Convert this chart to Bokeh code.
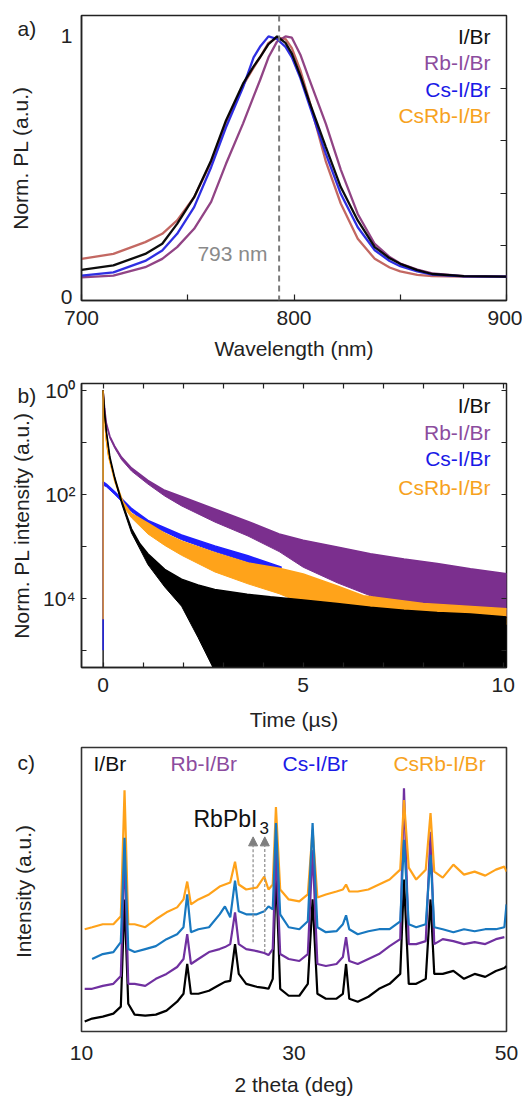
import numpy as np
from bokeh.plotting import figure
from bokeh.layouts import column
from bokeh.models import FixedTicker, Span, Label, Arrow, NormalHead, LinearAxis, LogAxis
from bokeh.core.properties import value
from bokeh.embed import file_html
from bokeh.resources import INLINE

FONT = "Liberation Sans"
FS = "21px"
INK = "#222222"

# ---------------- Panel a: normalized PL spectra ----------------
wavelength = [700, 715, 730, 738, 745, 753, 761, 768, 776, 781, 784, 788, 792, 796, 799,
              803, 807, 815, 822, 830, 838, 845, 850, 858, 865, 880, 900]
pl_IBr = [0.106, 0.123, 0.167, 0.206, 0.282, 0.384, 0.525, 0.678, 0.819, 0.885, 0.920, 0.970,
          1.0, 0.975, 0.934, 0.850, 0.755, 0.576, 0.423, 0.295, 0.193, 0.150, 0.129, 0.105,
          0.090, 0.082, 0.080]
pl_CsIBr = [0.084, 0.096, 0.140, 0.180, 0.244, 0.346, 0.499, 0.652, 0.805, 0.920, 0.960, 1.0,
            0.990, 0.960, 0.920, 0.840, 0.742, 0.550, 0.397, 0.269, 0.181, 0.140, 0.120, 0.100,
            0.088, 0.081, 0.080]
pl_RbIBr = [0.077, 0.084, 0.116, 0.148, 0.193, 0.263, 0.366, 0.512, 0.666, 0.770, 0.832, 0.920,
            0.980, 1.0, 0.995, 0.930, 0.840, 0.665, 0.490, 0.320, 0.205, 0.155, 0.130, 0.107,
            0.092, 0.082, 0.080]
pl_CsRbIBr = [0.148, 0.167, 0.212, 0.244, 0.295, 0.384, 0.519, 0.672, 0.812, 0.880, 0.920, 0.975,
              0.995, 0.990, 0.955, 0.870, 0.760, 0.520, 0.360, 0.225, 0.148, 0.115, 0.100, 0.087,
              0.082, 0.080, 0.080]
pl_peak_nm = 793

# ---------------- Panel b: TRPL decays (log10 envelopes of the noisy traces) ----------------
t_IBr = [0.0, 0.04, 0.08, 0.17, 0.29, 0.46, 0.71, 0.92, 1.12, 1.54, 1.96, 2.37, 2.79, 3.6,
         4.18, 5.0, 5.85, 6.68, 7.52, 8.35, 9.18, 10.14]
hi_IBr = [0.0, -0.45, -0.77, -1.28, -1.67, -2.12, -2.66, -2.95, -3.14, -3.44, -3.63, -3.74,
          -3.83, -3.92, -3.97, -4.03, -4.10, -4.17, -4.23, -4.27, -4.30, -4.36]
lo_IBr = [0.0, -0.48, -0.80, -1.32, -1.71, -2.17, -2.74, -3.05, -3.35, -3.78, -4.15, -4.75,
          -5.40, -5.40, -5.40, -5.40, -5.40, -5.40, -5.40, -5.40, -5.40, -5.40]

t_RbIBr = [0.0, 0.04, 0.08, 0.17, 0.29, 0.46, 0.71, 1.12, 1.54, 1.96, 2.79, 3.62, 4.4, 5.0,
           5.85, 6.68, 7.52, 8.35, 9.18, 10.14]
hi_RbIBr = [0.0, -0.35, -0.62, -0.88, -1.07, -1.28, -1.49, -1.73, -1.92, -2.04, -2.28, -2.52,
            -2.76, -2.88, -3.01, -3.14, -3.24, -3.33, -3.43, -3.53]
lo_RbIBr = [0.0, -0.38, -0.66, -0.92, -1.11, -1.33, -1.55, -1.80, -2.03, -2.22, -2.53, -2.80,
            -3.10, -3.40, -3.70, -3.95, -4.10, -4.20, -4.28, -4.35]

t_CsIBr = [0.0, 0.08, 0.29, 0.71, 1.12, 1.96, 2.79, 3.62, 4.46]
hi_CsIBr = [-1.76, -1.80, -1.95, -2.27, -2.50, -2.78, -2.99, -3.18, -3.40]
lo_CsIBr = [-1.82, -1.85, -2.00, -2.33, -2.57, -2.87, -3.10, -3.30, -3.52]

t_CsRbIBr = [0.0, 0.04, 0.08, 0.125, 0.29, 0.5, 0.71, 1.12, 1.54, 1.96, 2.79, 3.62, 4.4, 5.0,
             5.85, 6.5, 8.0, 10.14]
hi_CsRbIBr = [0.0, -0.55, -0.94, -1.20, -1.71, -2.15, -2.37, -2.55, -2.75, -2.90, -3.12, -3.32,
              -3.42, -3.53, -3.76, -3.95, -4.10, -4.20]
lo_CsRbIBr = [0.0, -0.58, -0.98, -1.25, -1.76, -2.22, -2.45, -2.76, -2.98, -3.17, -3.49, -3.72,
              -3.91, -4.10, -4.20, -4.30, -4.40, -4.50]

rise_floor = {"I/Br": -5.40, "Cs-I/Br": -5.00, "CsRb-I/Br": -4.40}

# ---------------- Panel c: XRD patterns (offset, a.u.) ----------------
two_theta = [10.3, 11, 12, 13, 13.7, 14.05, 14.4, 15, 16, 17, 18, 19, 19.6, 19.95, 20.3, 21, 22,
             23, 23.5, 24, 24.45, 24.8, 25.5, 26.5, 27.2, 27.6, 28.0, 28.3, 28.7, 29.5, 30.5,
             31.3, 31.75, 32.2, 33, 34, 34.6, 34.9, 35.2, 36, 37, 38, 39, 40.0, 40.35, 40.8,
             41.5, 42.4, 42.85, 43.2, 44, 45, 46, 47, 48, 49, 49.8, 50.0]
xrd_IBr = [10, 13, 15, 18, 25, 133, 28, 17, 16, 17, 21, 30, 38, 68, 38, 38, 41, 47, 50, 51, 88,
           58, 48, 45, 44, 43, 53, 163, 43, 36, 36, 48, 133, 38, 33, 33, 38, 68, 33, 30, 35, 43,
           48, 58, 153, 48, 48, 53, 133, 58, 58, 61, 53, 58, 55, 61, 64, 66]
xrd_RbIBr = [43, 43, 46, 48, 56, 183, 48, 48, 46, 53, 58, 65, 73, 98, 68, 73, 80, 83, 85, 88, 120,
             88, 83, 81, 79, 77, 83, 183, 78, 73, 71, 78, 183, 68, 66, 68, 75, 95, 71, 68, 73, 78,
             86, 93, 245, 88, 88, 91, 201, 88, 93, 91, 88, 90, 88, 93, 95, np.nan]
xrd_CsIBr = [np.nan, 73, 78, 80, 90, 195, 83, 80, 83, 86, 93, 98, 105, 138, 100, 103, 105, 118,
             126, 115, 152, 121, 118, 118, 121, 126, 123, 210, 118, 105, 103, 111, 210, 105, 100,
             101, 108, 117, 103, 98, 101, 103, 103, 111, 193, 108, 105, 108, 178, 105, 103, 100,
             103, 101, 103, 103, 105, 128]
xrd_CsRbIBr = [103, 105, 108, 108, 116, 243, 108, 108, 105, 113, 120, 125, 133, 151, 128, 133, 138,
               146, 148, 150, 171, 148, 143, 145, 156, 143, 148, 226, 143, 133, 131, 138, 203, 135,
               138, 141, 143, 148, 141, 141, 143, 148, 153, 163, 233, 165, 153, 163, 220, 161, 155,
               168, 158, 161, 157, 163, 166, 161]
rbpbi3_peaks = [26.15, 27.25]
rbpbi3_arrow_base = [90, 80]
rbpbi3_arrow_tip = 196

names = ["I/Br", "Rb-I/Br", "Cs-I/Br", "CsRb-I/Br"]
text_colors = {"I/Br": "#111111", "Rb-I/Br": "#8c4c9e", "Cs-I/Br": "#1a1ae6", "CsRb-I/Br": "#f7a21e"}


def style_axis(ax, tick_in=6, label_standoff=6, title_standoff=8):
    ax.axis_line_color = INK
    ax.axis_line_width = 1.5
    ax.major_tick_line_color = INK
    ax.major_tick_line_width = 1.2
    ax.major_tick_in = tick_in
    ax.major_tick_out = 0
    ax.minor_tick_line_color = INK
    ax.minor_tick_line_width = 1.2
    ax.minor_tick_in = tick_in
    ax.minor_tick_out = 0
    ax.major_label_text_font = FONT
    ax.major_label_text_font_size = FS
    ax.major_label_text_color = INK
    ax.major_label_standoff = label_standoff
    ax.axis_label_text_font = FONT
    ax.axis_label_text_font_size = FS
    ax.axis_label_text_font_style = "normal"
    ax.axis_label_text_color = INK
    ax.axis_label_standoff = title_standoff


def tick_only(ax, tick_in=5):
    # mirrored axis: tick marks only, labels not painted
    ax.axis_line_color = None
    ax.major_tick_line_color = INK
    ax.major_tick_line_width = 1.2
    ax.major_tick_in = tick_in
    ax.major_tick_out = 0
    ax.minor_tick_line_color = None
    ax.major_label_text_color = None
    ax.major_label_text_font_size = "1px"
    ax.major_label_standoff = 0


def base_fig(**kw):
    p = figure(output_backend="svg", toolbar_location=None, title=None, width=522,
               min_border_left=81, min_border_right=16, **kw)
    p.xgrid.visible = False
    p.ygrid.visible = False
    p.outline_line_color = INK
    p.outline_line_width = 1.5
    p.background_fill_color = "white"
    p.border_fill_color = "white"
    return p


def add_label(p, x, y, text, color=INK, align="left", size=FS):
    p.add_layout(Label(x=x, y=y, text=text, text_font=FONT, text_font_size=size,
                       text_color=color, text_align=align, text_baseline="middle"))


def add_outside_text(p, x, y, text, angle=0.0, align="left"):
    # text glyph on the overlay level, so it may sit in the border area
    p.text(x=[x], y=[y], text=[text], angle=angle, text_font=value(FONT), text_font_size=FS,
           text_color=INK, text_align=align, text_baseline="middle", level="overlay")


# ================= Panel a =================
p1 = base_fig(height=368, x_range=(700, 900), y_range=(-0.0115, 1.08),
              min_border_top=15, min_border_bottom=68)
style_axis(p1.xaxis[0], tick_in=6, label_standoff=10, title_standoff=9)
p1.xaxis.ticker = FixedTicker(ticks=[700, 800, 900], minor_ticks=[750, 850])
p1.xaxis.axis_label = "Wavelength (nm)"
style_axis(p1.yaxis[0], tick_in=0, label_standoff=9, title_standoff=26)
p1.yaxis.ticker = FixedTicker(ticks=[0, 1])
p1.yaxis.axis_label = "Norm. PL (a.u.)"
ra = LinearAxis(ticker=FixedTicker(ticks=[0.2, 0.4, 0.6, 0.8]))
tick_only(ra, tick_in=6)
p1.add_layout(ra, "right")

pl_series = [(pl_CsRbIBr, "#c0605a"), (pl_RbIBr, "#8b3a7e"), (pl_CsIBr, "#2424e0"), (pl_IBr, "#000000")]
for ys, col in pl_series:
    p1.line(wavelength, ys, line_color=col, line_width=2.3, line_alpha=0.95)
p1.add_layout(Span(location=pl_peak_nm, dimension="height", line_color="#7a7a7a",
                   line_dash="6 4", line_width=2))
add_label(p1, 787.5, 0.169, f"{pl_peak_nm} nm", color="#8a8a8a", align="right")
for name, yy in zip(names, [1.0, 0.90, 0.797, 0.697]):
    add_label(p1, 892.5, yy, name, color=text_colors[name], align="right")
add_outside_text(p1, 669.9, 1.03, "a)")

# ================= Panel b =================
p2 = base_fig(height=367, x_range=(-0.54, 10.08), y_range=(10 ** -5.33, 10 ** 0.135),
              y_axis_type="log", min_border_top=15, min_border_bottom=68)
style_axis(p2.xaxis[0], tick_in=5, label_standoff=10, title_standoff=13)
p2.xaxis.ticker = FixedTicker(ticks=[0, 5, 10], minor_ticks=[1, 2, 3, 4, 6, 7, 8, 9])
p2.xaxis.axis_label = "Time (µs)"
decades = [1.0, 1e-2, 1e-4]
minor = [1e-1, 1e-3, 1e-5]
style_axis(p2.yaxis[0], tick_in=5, label_standoff=6, title_standoff=7)
p2.yaxis.ticker = FixedTicker(ticks=decades, minor_ticks=minor)
p2.yaxis.major_label_overrides = {1.0: "10⁰", 1e-2: "10²", 1e-4: "10⁴"}
p2.yaxis.axis_label = "Norm. PL intensity (a.u.)"
ta = LinearAxis(ticker=FixedTicker(ticks=list(range(0, 11))))
tick_only(ta, tick_in=5)
p2.add_layout(ta, "above")
rb = LogAxis(ticker=FixedTicker(ticks=[1.0, 1e-1, 1e-2, 1e-3, 1e-4, 1e-5]))
tick_only(rb, tick_in=5)
p2.add_layout(rb, "right")

decays = [(t_CsIBr, hi_CsIBr, lo_CsIBr, "#1f1fff"),
          (t_RbIBr, hi_RbIBr, lo_RbIBr, "#7b2f8e"),
          (t_CsRbIBr, hi_CsRbIBr, lo_CsRbIBr, "#ffa31a"),
          (t_IBr, hi_IBr, lo_IBr, "#000000")]
for t, hi, lo, col in decays:
    hi_v = 10 ** np.array(hi)
    lo_v = 10 ** np.array(lo)
    p2.varea(x=t, y1=lo_v, y2=hi_v, fill_color=col)
    p2.line(t, hi_v, line_color=col, line_width=1.5)
    p2.line(t, lo_v, line_color=col, line_width=1.0)
for (t, hi, lo, col), key in [(decays[3], "I/Br"), (decays[0], "Cs-I/Br"), (decays[2], "CsRb-I/Br")]:
    p2.segment(x0=[t[0]], y0=[10 ** rise_floor[key]], x1=[t[0]], y1=[10 ** hi[0]],
               line_color=col, line_width=1.3)
for name, lg in zip(names, [-0.288, -0.808, -1.308, -1.865]):
    add_label(p2, 9.68, 10 ** lg, name, color=text_colors[name], align="right")
add_outside_text(p2, -2.14, 10 ** -0.09, "b)")

# ================= Panel c =================
p3 = base_fig(height=363, x_range=(10, 50), y_range=(0, 286),
              min_border_top=12, min_border_bottom=65)
style_axis(p3.xaxis[0], tick_in=0, label_standoff=14, title_standoff=10)
p3.xaxis.ticker = FixedTicker(ticks=[10, 30, 50])
p3.xaxis.axis_label = "2 theta (deg)"
p3.xaxis.axis_line_color = None
p3.yaxis.visible = False
p3.outline_line_color = "#333333"
p3.outline_line_width = 1.6

xrd_series = [(xrd_IBr, "#000000"), (xrd_RbIBr, "#7030a0"), (xrd_CsRbIBr, "#ffa21a"), (xrd_CsIBr, "#1878c0")]
for ys, col in xrd_series:
    p3.line(two_theta, ys, line_color=col, line_width=2.2)

for xp, yb in zip(rbpbi3_peaks, rbpbi3_arrow_base):
    p3.add_layout(Arrow(end=NormalHead(size=9, fill_color="#7f7f7f", line_color="#7f7f7f"),
                        x_start=xp, y_start=yb, x_end=xp, y_end=rbpbi3_arrow_tip,
                        line_color="#8a8a8a", line_width=1.2, line_dash="3 2"))
add_label(p3, 20.54, 213.5, "RbPbI", color="#111111", size="23px")
add_label(p3, 26.75, 205, "3", color="#111111", size="17px")
for name, xx in zip(names, [11.13, 18.38, 28.92, 39.36]):
    add_label(p3, xx, 270, name, color=text_colors[name])
add_outside_text(p3, 3.98, 271, "c)")
add_outside_text(p3, 4.54, 141, "Intensity (a.u.)", angle=np.pi / 2, align="center")

layout = column(p1, p2, p3, spacing=0)
open("out.html", "w").write(file_html(layout, INLINE))
